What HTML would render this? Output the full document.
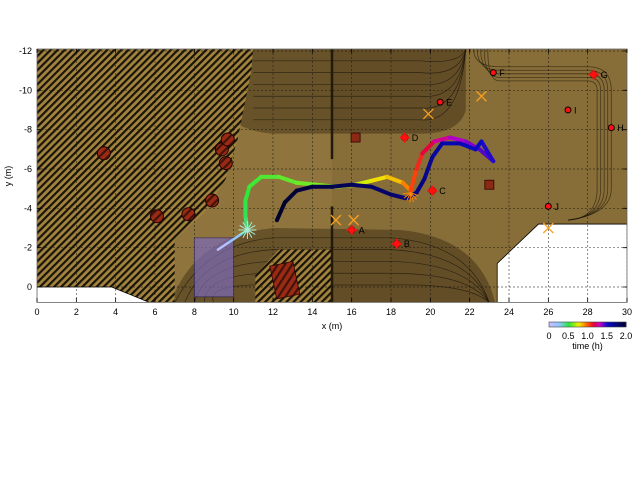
<!DOCTYPE html>
<html><head><meta charset="utf-8">
<style>
html,body{margin:0;padding:0;background:#fff;width:640px;height:480px;overflow:hidden;font-family:"Liberation Sans",sans-serif;}
svg text{font-family:"Liberation Sans",sans-serif;font-size:9px;fill:#000;}
</style></head>
<body>
<svg id="chart" width="640" height="480" viewBox="0 0 640 480" xmlns="http://www.w3.org/2000/svg">
<defs>
<pattern id="hatch" patternUnits="userSpaceOnUse" width="5" height="5" patternTransform="rotate(45)">
<rect width="5" height="5" fill="#a2843e"/>
<rect width="2.2" height="5" fill="#1a1408"/>
</pattern>
<pattern id="hatch2" patternUnits="userSpaceOnUse" width="6" height="6" patternTransform="rotate(45)">
<rect width="2.2" height="6" fill="#1a0a05" opacity="0.7"/>
</pattern>
<clipPath id="plotclip"><rect x="37" y="49" width="590" height="253"/></clipPath>
</defs>
<g id="plot" clip-path="url(#plotclip)"></g>
<g id="axes"></g>
<g id="colorbar"></g>
</svg>
<script>
// ---- data ----
const xTicks=[0,2,4,6,8,10,12,14,16,18,20,22,24,26,28,30];
const yTicks=[-12,-10,-8,-6,-4,-2,0];
const trajX=[9.2,9.8,10.4,10.7,10.6,10.6,10.8,11.4,12.3,13.2,14.2,15.2,16.2,17.0,17.8,18.6,19.0,19.3,19.6,20.2,21.0,21.8,22.5,23.2,22.6,22.3,21.5,20.6,20.1,19.7,19.3,18.8,18.0,17.0,16.0,15.0,14.0,13.2,12.6,12.2];
const trajY=[-1.9,-2.3,-2.7,-2.9,-3.6,-4.4,-5.1,-5.6,-5.6,-5.3,-5.2,-5.1,-5.2,-5.4,-5.6,-5.3,-4.9,-6.0,-6.8,-7.4,-7.6,-7.4,-7.0,-6.4,-7.4,-7.0,-7.3,-7.3,-6.6,-5.5,-4.8,-4.5,-4.7,-5.1,-5.2,-5.1,-5.1,-4.9,-4.3,-3.4];
const trajT=[0.0,0.15,0.3,0.4,0.45,0.5,0.52,0.54,0.56,0.58,0.6,0.63,0.67,0.75,0.8,0.85,1.0,1.05,1.1,1.2,1.3,1.35,1.4,1.45,1.5,1.52,1.55,1.6,1.65,1.7,1.72,1.75,1.78,1.8,1.84,1.88,1.9,1.94,1.97,2.0];
const landmarkX=[3.4,6.1,7.7,8.9,9.4,9.7,9.6];
const landmarkY=[-6.8,-3.6,-3.7,-4.4,-7.0,-7.5,-6.3];
const crossX=[16.0,18.3,20.1,18.7,28.3];
const crossY=[-2.9,-2.2,-4.9,-7.6,-10.8];
const crossLbl=["A","B","C","D","G"];
const dotX=[20.5,23.2,29.2,27.0,26.0];
const dotY=[-9.4,-10.9,-8.1,-9.0,-4.1];
const dotLbl=["E","F","H","I","J"];
const xMarkX=[15.2,16.1,19.9,22.6,26.0];
const xMarkY=[-3.4,-3.4,-8.8,-9.7,-3.0];
const squareX=[16.2,23.0];
const squareY=[-7.6,-5.2];
const cbTicks=["0","0.5","1.0","1.5","2.0"];
const cbVals=[0,0.5,1.0,1.5,2.0];

// ---- scales ----
const X0=37,PX=19.667,Y0=287;
function sx(x){return X0+x*PX;}
function sy(y){return Y0+y*PX;}
const NS="http://www.w3.org/2000/svg";
function mk(tag,attrs,parent){const e=document.createElementNS(NS,tag);for(const k in attrs)e.setAttribute(k,attrs[k]);parent.appendChild(e);return e;}
function pts(arr){return arr.map(p=>sx(p[0])+","+sy(p[1])).join(" ");}
const plot=document.getElementById("plot"),axes=document.getElementById("axes"),cbg=document.getElementById("colorbar");

let bg=mk("rect",{x:37,y:49,width:590,height:254,fill:"#8f753d"},plot);


let lite=mk("rect",{x:sx(15),y:49,width:sx(30)-sx(15),height:254,fill:"#7e6432",opacity:0.45},plot);


let b1=mk("path",{d:`M${sx(8.5)},49 L${sx(21.8)},49 L${sx(21.8)},${sy(-9)} Q${sx(21.5)},${sy(-7.8)} ${sx(19.5)},${sy(-7.8)} L${sx(12)},${sy(-7.8)} Q${sx(9)},${sy(-8)} ${sx(8.5)},${sy(-11)} Z`,fill:"#2a1f0c",opacity:0.4},plot);


for(let i=0;i<6;i++){let l=mk("path",{d:`M${sx(11)},${sy(-11.5+i*0.6)} L${sx(19.5)},${sy(-11.5+i*0.6)} Q${sx(21.5)},${sy(-11.3+i*0.6)} ${sx(21.8)},49`,fill:"none",stroke:"#1a1408","stroke-width":0.7,opacity:0.7},plot);}
let b2=mk("path",{d:`M${sx(6.8)},303 Q${sx(8)},${sy(-2.6)} ${sx(12)},${sy(-3)} L${sx(18.5)},${sy(-2.9)} Q${sx(22.5)},${sy(-2.5)} ${sx(23.3)},303 Z`,fill:"#2a1f0c",opacity:0.4},plot);


for(let i=0;i<5;i++){let l=mk("path",{d:`M${sx(7+i*0.5)},303 Q${sx(8.5)},${sy(-2.2+i*0.5)} ${sx(12)},${sy(-2.5+i*0.6)} L${sx(18)},${sy(-2.5+i*0.6)} Q${sx(22)},${sy(-2.2+i*0.5)} ${sx(23)},303`,fill:"none",stroke:"#1a1408","stroke-width":0.7,opacity:0.7},plot);}
// right ring band
for(let i=0;i<5;i++){const o=i*0.18;let l=mk("path",{d:`M${sx(22.2+o)},49 Q${sx(22.2+o)},${sy(-11.2+o)} ${sx(23.5)},${sy(-11.2+o)} L${sx(28)},${sy(-11.2+o)} Q${sx(29.2-o)},${sy(-11.2+o)} ${sx(29.2-o)},${sy(-10)} L${sx(29.2-o)},${sy(-5)} Q${sx(29.2-o)},${sy(-3.7+o*0.3)} ${sx(27)},${sy(-3.4)}`,fill:"none",stroke:"#1a1408","stroke-width":0.8,opacity:0.6},plot);}
let h1=mk("polygon",{points:pts([[0,-12.2],[11,-12.2],[10.9,-11],[10.2,-7.5],[9.6,-5.5],[8.5,-3.8],[7,-2.4],[7,0.9],[6,0.9],[3.8,0],[0,0]]),fill:"url(#hatch)"},plot);


let h2=mk("polygon",{points:pts([[11.1,0.9],[11.1,-0.6],[12.3,-1.9],[15,-1.9],[15,0.9]]),fill:"url(#hatch)"},plot);


let w1=mk("polygon",{points:pts([[-0.1,0],[3.8,0],[6,0.9],[-0.1,0.9]]),fill:"#fff",stroke:"#000","stroke-width":0.8},plot);


let w2=mk("polygon",{points:pts([[23.4,0.9],[23.4,-1.2],[25.5,-3.2],[30.2,-3.2],[30.2,0.9]]),fill:"#fff",stroke:"#000","stroke-width":0.8},plot);


let wl=mk("line",{x1:sx(15),y1:49,x2:sx(15),y2:sy(-6.5),stroke:"#221a0a","stroke-width":2.5},plot);


let wl2=mk("line",{x1:sx(15),y1:sy(-4.1),x2:sx(15),y2:303,stroke:"#221a0a","stroke-width":2.5},plot);


xTicks.forEach(t=>{let g=mk("line",{x1:sx(t),y1:49,x2:sx(t),y2:303,stroke:"#111","stroke-width":0.7,"stroke-dasharray":"2,2",opacity:0.7},plot);});
yTicks.forEach(t=>{let g=mk("line",{x1:37,y1:sy(t),x2:627,y2:sy(t),stroke:"#111","stroke-width":0.7,"stroke-dasharray":"2,2",opacity:0.7},plot);});
let pz=mk("rect",{x:sx(8),y:sy(-2.5),width:sx(10)-sx(8),height:sy(0.5)-sy(-2.5),fill:"#7c6ab8",opacity:0.7,stroke:"#2a2060","stroke-width":0.8},plot);


let ob=mk("rect",{x:sx(12),y:sy(-1.2),width:1.2*PX,height:1.7*PX,fill:"#9a2a14",stroke:"#300","stroke-width":0.8,transform:`rotate(-12 ${sx(12.6)} ${sy(-0.35)})`},plot);


let ob2=mk("rect",{x:sx(12),y:sy(-1.2),width:1.2*PX,height:1.7*PX,fill:"url(#hatch2)",transform:`rotate(-12 ${sx(12.6)} ${sy(-0.35)})`},plot);



const cmStops=[[0,[200,190,255]],[0.25,[140,200,255]],[0.5,[40,230,60]],[0.75,[240,240,0]],[1.0,[255,80,0]],[1.15,[230,0,60]],[1.3,[200,0,200]],[1.5,[10,10,200]],[2.0,[0,0,40]]];
function cmap(t){for(let i=1;i<cmStops.length;i++){if(t<=cmStops[i][0]){const a=cmStops[i-1],b=cmStops[i];const f=(t-a[0])/(b[0]-a[0]);const c=a[1].map((v,k)=>Math.round(v+(b[1][k]-v)*f));return `rgb(${c})`;}}return "rgb(0,0,40)";}

for(let i=0;i<trajX.length-1;i++){
  const w=trajT[i]<0.4?2.5:4;
  const s=mk("line",{x1:sx(trajX[i]),y1:sy(trajY[i]),x2:sx(trajX[i+1]),y2:sy(trajY[i+1]),stroke:cmap((trajT[i]+trajT[i+1])/2),"stroke-width":w,"stroke-linecap":"round"},plot);
  
  
}
for(let a=0;a<12;a++){const ang=a*Math.PI/6;const s=mk("line",{x1:sx(10.7),y1:sy(-2.9),x2:sx(10.7)+9*Math.cos(ang),y2:sy(-2.9)+9*Math.sin(ang),stroke:"#a8ecd8","stroke-width":1},plot);}
for(let a=0;a<7;a++){const ang=Math.PI*0.1+a*Math.PI/7;const s=mk("line",{x1:sx(19),y1:sy(-4.8),x2:sx(19)+10*Math.cos(ang)*0.8,y2:sy(-4.8)+10*Math.sin(ang),stroke:"#ff8800","stroke-width":1},plot);}

landmarkX.forEach((x,i)=>{const c=mk("circle",{cx:sx(x),cy:sy(landmarkY[i]),r:6.5,fill:"#9a2a14",stroke:"#200","stroke-width":1},plot);
const c2=mk("circle",{cx:sx(x),cy:sy(landmarkY[i]),r:6,fill:"url(#hatch2)"},plot);});
squareX.forEach((x,i)=>{const r=mk("rect",{x:sx(x)-4.5,y:sy(squareY[i])-4.5,width:9,height:9,fill:"#8a2a14",stroke:"#300","stroke-width":0.8},plot);});
crossX.forEach((x,i)=>{const cx=sx(x),cy=sy(crossY[i]);
const c=mk("circle",{cx:cx,cy:cy,r:3.5,fill:"#ff1010",stroke:"#600","stroke-width":0.5},plot);
const p=mk("path",{d:`M${cx-5},${cy}H${cx+5}M${cx},${cy-5}V${cy+5}`,stroke:"#ff1010","stroke-width":1.8},plot);
const t=mk("text",{x:cx+7,y:cy+3.5},plot);t.textContent=crossLbl[i];});
dotX.forEach((x,i)=>{const cx=sx(x),cy=sy(dotY[i]);
const c=mk("circle",{cx:cx,cy:cy,r:3,fill:"#ff1010",stroke:"#000","stroke-width":0.9},plot);
const t=mk("text",{x:cx+6,y:cy+3.5},plot);t.textContent=dotLbl[i];});
xMarkX.forEach((x,i)=>{const cx=sx(x),cy=sy(xMarkY[i]);const p=mk("path",{d:`M${cx-5},${cy-5}L${cx+5},${cy+5}M${cx+5},${cy-5}L${cx-5},${cy+5}`,stroke:"#f8a020","stroke-width":1.3},plot);});

let fr=mk("rect",{x:37,y:49,width:590,height:253.5,fill:"none",stroke:"#666","stroke-width":0.8},axes);


xTicks.forEach(t=>{
 const l=mk("path",{d:`M${sx(t)},302V298M${sx(t)},49V53`,stroke:"#000","stroke-width":0.8},axes);
 const tx=mk("text",{x:sx(t),y:315,"text-anchor":"middle"},axes);tx.textContent=t;});
yTicks.forEach(t=>{
 const l=mk("path",{d:`M37,${sy(t)}H41M627,${sy(t)}H623`,stroke:"#000","stroke-width":0.8},axes);
 const tx=mk("text",{x:32,y:sy(t)+3,"text-anchor":"end"},axes);tx.textContent=t;});
let xt=mk("text",{x:sx(15),y:329,"text-anchor":"middle"},axes);xt.textContent="x (m)";
let yt=mk("text",{x:11,y:176,"text-anchor":"middle",transform:"rotate(-90 11 176)"},axes);yt.textContent="y (m)";

const cbX0=549,cbX1=626;
function cbx(v){return cbX0+(cbX1-cbX0)*v/2;}
for(let i=0;i<60;i++){const v=i/60*2;const r=mk("rect",{x:cbx(v),y:322,width:(cbX1-cbX0)/60+0.5,height:5,fill:cmap(v)},cbg);}
let cbf=mk("rect",{x:cbX0,y:322,width:cbX1-cbX0,height:5,fill:"none",stroke:"#444","stroke-width":0.6},cbg);


cbVals.forEach((v,i)=>{const t=mk("text",{x:cbx(v),y:339,"text-anchor":"middle"},cbg);t.textContent=cbTicks[i];});
let cbt=mk("text",{x:cbx(1),y:349,"text-anchor":"middle","font-size":"8"},cbg);cbt.textContent="time (h)";
</script>
</body></html>
